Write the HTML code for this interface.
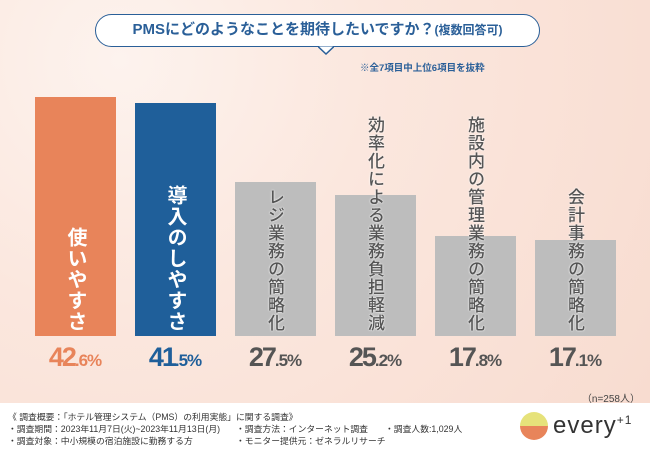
<!DOCTYPE html>
<html><head><meta charset="utf-8"><style>
*{margin:0;padding:0;box-sizing:border-box}
body{width:650px;height:450px;overflow:hidden;font-family:"Liberation Sans","Noto Sans CJK JP",sans-serif;background:#fff;position:relative}
#bg{position:absolute;left:0;top:0;width:650px;height:403px;background:radial-gradient(circle at 120px 60px,#fdf3ee 0,#fbe7de 40%,#f8dcd0 100%);}
.bubble{position:absolute;left:95px;top:14px;width:445px;height:33px;border:1.5px solid #2a5f98;border-radius:17px;background:#fff;color:#2a5f98;font-weight:bold;font-size:15px;text-align:center;line-height:30px}
.bubble small{font-size:12px}
.note{position:absolute;left:360px;top:60px;font-size:9.5px;color:#2a5f98;font-weight:bold}
.bar{position:absolute}
.lbl{position:absolute;writing-mode:vertical-rl;font-size:17px;line-height:17px;letter-spacing:1px}
.pct{position:absolute;width:100px;text-align:center;top:342px;font-weight:bold;font-size:27px;letter-spacing:-2px;font-family:"Liberation Sans Narrow","Liberation Sans",sans-serif}
.pct span{font-size:17px;letter-spacing:-1px}
.foot{position:absolute;font-size:8.8px;color:#333;line-height:12px;white-space:nowrap}
</style></head><body>
<div id="bg"></div>
<div class="bubble">PMSにどのようなことを期待したいですか？<small>(複数回答可)</small></div>
<svg style="position:absolute;left:318px;top:46px" width="16" height="9"><path d="M0 0.5 L8 8 L16 0.5" fill="#fff" stroke="#2a5f98" stroke-width="1.5"/></svg>
<div class="note">※全7項目中上位6項目を抜粋</div>
<div id="chart"></div>
<div style="position:absolute;right:10px;top:390px;font-size:10px;color:#444">（n=258人）</div>
<div class="foot" style="left:8px;top:411px">《 調査概要：「ホテル管理システム（PMS）の利用実態」に関する調査》<br>・調査期間：2023年11月7日(火)~2023年11月13日(月)<br>・調査対象：中小規模の宿泊施設に勤務する方</div>
<div class="foot" style="left:236px;top:423px">・調査方法：インターネット調査<br>・モニター提供元：ゼネラルリサーチ</div>
<div class="foot" style="left:385px;top:423px">・調査人数:1,029人</div>
<div style="position:absolute;left:520px;top:412px;width:28px;height:28px;border-radius:50%;background:linear-gradient(#e6e27a 50%,#e8845a 50%)"></div>
<div style="position:absolute;left:553px;top:412px;font-size:24px;color:#333;letter-spacing:1px">every<sup style="font-size:12px">+1</sup></div>
<script>
const categories=["使いやすさ","導入のしやすさ","レジ業務の簡略化","効率化による業務負担軽減","施設内の管理業務の簡略化","会計事務の簡略化"];
const values=[42.6,41.5,27.5,25.2,17.8,17.1];
const colors=["#e8845a","#1f5f9a","#bdbdbd","#bdbdbd","#bdbdbd","#bdbdbd"];
const pctColors=["#e8845a","#1f5f9a","#555","#555","#555","#555"];
const base=336,scale=5.61;
const y=v=>base-v*scale;
const x=i=>35+i*100;
const c=document.getElementById('chart');
values.forEach((v,i)=>{
  const b=document.createElement('div');b.className='bar';
  
  
  b.style.cssText=`left:${x(i)}px;top:${y(v)}px;width:81px;height:${base-y(v)}px;background:${colors[i]}`;
  c.appendChild(b);
  const l=document.createElement('div');l.className='lbl';
  
  
  l.textContent=categories[i];
  const big=i<2;
  l.style.fontSize=big?'20px':'17px';l.style.lineHeight=big?'20px':'17px';
  l.style.fontWeight=big?'bold':'500';
  l.style.color=big?'#fff':'#555';
  if(!big)l.style.textShadow='0 0 2px #fff,0 0 1px #fff';
  l.style.left=(x(i)+40-(big?10:9))+'px';
  l.style.bottom=(450-332)+'px';
  c.appendChild(l);
  const p=document.createElement('div');p.className='pct';
  
  
  const s=v.toFixed(1).split('.');
  p.innerHTML=s[0]+'<span>.'+s[1]+'%</span>';
  p.style.left=(x(i)-10)+'px';p.style.color=pctColors[i];
  c.appendChild(p);
});
</script>
</body></html>
